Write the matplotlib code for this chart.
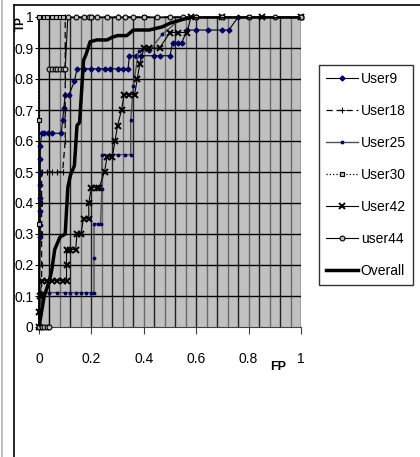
import numpy as np
import matplotlib
matplotlib.use("Agg")
import matplotlib.pyplot as plt
from matplotlib.lines import Line2D

plt.rcParams["font.family"] = ["Liberation Sans", "DejaVu Sans"]

# ROC points (FP, TP)
user9_fp = [0, 0.005, 0.005, 0.005, 0.005, 0.005, 0.005, 0.005, 0.005, 0.01, 0.02, 0.035, 0.05,
            0.085, 0.09, 0.095, 0.10, 0.115, 0.135, 0.145, 0.17, 0.2, 0.225, 0.25, 0.27, 0.3,
            0.32, 0.34, 0.345, 0.37, 0.39, 0.44, 0.46, 0.5, 0.51, 0.53, 0.545, 0.565, 0.6,
            0.645, 0.7, 0.725, 0.76, 1]
user9_tp = [0, 0.29, 0.33, 0.375, 0.417, 0.458, 0.5, 0.542, 0.583, 0.625, 0.625, 0.625, 0.625,
            0.625, 0.667, 0.708, 0.75, 0.75, 0.792, 0.833, 0.833, 0.833, 0.833, 0.833, 0.833, 0.833,
            0.833, 0.833, 0.875, 0.875, 0.875, 0.875, 0.875, 0.875, 0.917, 0.917, 0.917, 0.958, 0.958,
            0.958, 0.958, 0.958, 1, 1]

user18_fp = [0, 0.01, 0.01, 0.01, 0.01, 0.01, 0.03, 0.05, 0.07, 0.09, 0.1, 0.1, 0.1, 0.1, 0.1, 0.3, 0.6, 1]
user18_tp = [0, 0.1, 0.2, 0.3, 0.4, 0.5, 0.5, 0.5, 0.5, 0.5, 0.6, 0.7, 0.8, 0.9, 1, 1, 1, 1]

user25_fp = [0, 0.005, 0.01, 0.04, 0.07, 0.1, 0.12, 0.14, 0.16, 0.18, 0.2, 0.21, 0.21, 0.21,
             0.225, 0.235, 0.24, 0.24, 0.27, 0.3, 0.33, 0.35, 0.35, 0.36, 0.38, 0.42, 0.47, 0.55,
             0.7, 1]
user25_tp = [0, 0.056, 0.111, 0.111, 0.111, 0.111, 0.111, 0.111, 0.111, 0.111, 0.111, 0.111,
             0.222, 0.333, 0.333, 0.333, 0.444, 0.556, 0.556, 0.556, 0.556, 0.556, 0.667, 0.778,
             0.889, 0.889, 0.944, 1, 1, 1]

user30_fp = [0, 0, 0, 0, 0.02, 0.03, 0.05, 0.065, 0.08, 0.09, 0.2, 0.4, 0.6, 0.8, 1]
user30_tp = [0, 0.333, 0.667, 1, 1, 1, 1, 1, 1, 1, 1, 1, 1, 1, 1]

user42_fp = [0, 0, 0.005, 0.01, 0.03, 0.05, 0.07, 0.09, 0.105, 0.105, 0.105, 0.12, 0.14, 0.145,
             0.16, 0.17, 0.19, 0.19, 0.2, 0.22, 0.23, 0.25, 0.26, 0.28, 0.29, 0.3, 0.315, 0.325,
             0.345, 0.365, 0.375, 0.385, 0.4, 0.42, 0.46, 0.5, 0.53, 0.565, 0.58, 0.7, 0.85, 1]
user42_tp = [0, 0.05, 0.1, 0.15, 0.15, 0.15, 0.15, 0.15, 0.15, 0.2, 0.25, 0.25, 0.25, 0.3,
             0.3, 0.35, 0.35, 0.4, 0.45, 0.45, 0.45, 0.5, 0.55, 0.55, 0.6, 0.65, 0.7, 0.75,
             0.75, 0.75, 0.8, 0.85, 0.9, 0.9, 0.9, 0.95, 0.95, 0.95, 1, 1, 1, 1]

user44_fp = [0, 0.01, 0.02, 0.03, 0.04, 0.04, 0.05, 0.06, 0.07, 0.08, 0.09, 0.1, 0.11, 0.14,
             0.17, 0.19, 0.2, 0.22, 0.26, 0.3, 0.33, 0.36, 0.4, 0.45, 0.5, 0.55, 0.6, 0.7, 0.8,
             0.9, 1]
user44_tp = [0, 0, 0, 0, 0, 0.833, 0.833, 0.833, 0.833, 0.833, 0.833, 0.833, 1, 1, 1, 1, 1, 1,
             1, 1, 1, 1, 1, 1, 1, 1, 1, 1, 1, 1, 1]

overall_fp = [0, 0.01, 0.02, 0.04, 0.05, 0.055, 0.06, 0.08, 0.1, 0.11, 0.12, 0.135, 0.145, 0.155,
              0.17, 0.18, 0.195, 0.22, 0.26, 0.28, 0.3, 0.335, 0.36, 0.42, 0.47, 0.5, 0.58, 1]
overall_tp = [0, 0.05, 0.1, 0.15, 0.19, 0.22, 0.25, 0.29, 0.3, 0.45, 0.49, 0.52, 0.65, 0.66,
              0.86, 0.88, 0.92, 0.926, 0.926, 0.935, 0.94, 0.94, 0.958, 0.958, 0.968, 0.98, 1, 1]

fig = plt.figure(figsize=(4.2, 4.57), dpi=100)

# outer frame pieces
fig.add_artist(Line2D([2 / 420, 2 / 420], [0, 1], color="#b0b0b0", lw=1.2))
fig.add_artist(Line2D([14 / 420, 14 / 420], [0, 1 - 5 / 457], color="black", lw=1.2))
fig.add_artist(Line2D([14 / 420, 1], [1 - 5 / 457, 1 - 5 / 457], color="black", lw=1.2))

ax = fig.add_axes([39 / 420, 1 - 327 / 457, 262 / 420, 310 / 457])
ax.set_facecolor("#c0c0c0")
ax.set_xlim(0, 1)
ax.set_ylim(0, 1)

# gridlines: vertical every 0.04, horizontal every 0.1
for i, gx in enumerate(np.arange(0.04, 1.001, 0.04)):
    ax.axvline(gx, color="#202020" if i % 2 == 0 else "#6a6a6a", lw=1.0, zorder=1)
for gy in np.arange(0.1, 1.001, 0.1):
    ax.axhline(gy, color="black", lw=1.0, zorder=1)

kw = dict(clip_on=False, zorder=3)
ax.plot(user9_fp, user9_tp, color="black", lw=0.8, marker="D", ms=2.5,
        mfc="#000066", mec="#000066", label="User9", **kw)
ax.plot(user18_fp, user18_tp, color="black", lw=0.9, ls=(0, (5, 3)), marker="+", ms=4,
        mew=0.8, label="User18", **kw)
ax.plot(user25_fp, user25_tp, color="#505050", lw=1.0, marker=".", ms=3.5,
        mfc="#000066", mec="#000066", label="User25", **kw)
ax.plot(user30_fp, user30_tp, color="black", lw=0.9, ls=":", marker="s", ms=3,
        mfc="#c0c0c0", mec="black", mew=0.8, label="User30", **kw)
ax.plot(user42_fp, user42_tp, color="black", lw=0.8, marker="x", ms=4.5, mew=1.4,
        label="User42", **kw)
ax.plot(user44_fp, user44_tp, color="black", lw=0.8, marker="o", ms=3.5,
        mfc="#c0c0c0", mec="black", mew=0.8, label="user44", **kw)
ax.plot(overall_fp, overall_tp, color="black", lw=2.5, label="Overall", zorder=4)

for side in ["top", "right"]:
    ax.spines[side].set_visible(False)
ax.spines["left"].set_linewidth(1.3)
ax.spines["bottom"].set_color("#404040")

ax.set_xticks([0, 0.2, 0.4, 0.6, 0.8, 1])
ax.set_xticklabels(["0", "0.2", "0.4", "0.6", "0.8", "1"])
ax.set_yticks(np.round(np.arange(0, 1.01, 0.1), 1))
ax.set_yticklabels(["0", "0.1", "0.2", "0.3", "0.4", "0.5", "0.6", "0.7", "0.8", "0.9", "1"])
ax.tick_params(axis="x", length=5, pad=13, labelsize=10, color="#404040")
ax.tick_params(axis="y", length=3, pad=1, labelsize=10)

fig.text(21 / 420, 1 - 24 / 457, "TP", rotation=90, fontsize=8.5, fontweight="bold",
         ha="center", va="center")
fig.text(278 / 420, 1 - 367 / 457, "FP", fontsize=9, fontweight="bold",
         ha="center", va="center")

leg = fig.legend(loc="upper left", bbox_to_anchor=(319 / 420, 1 - 65 / 457),
                 fontsize=10, frameon=True, fancybox=False, edgecolor="black",
                 handlelength=2.3, labelspacing=1.3, borderaxespad=0, borderpad=0.5,
                 handletextpad=0.2)
leg.get_frame().set_linewidth(1.0)

fig.savefig("out.png", dpi=100)
